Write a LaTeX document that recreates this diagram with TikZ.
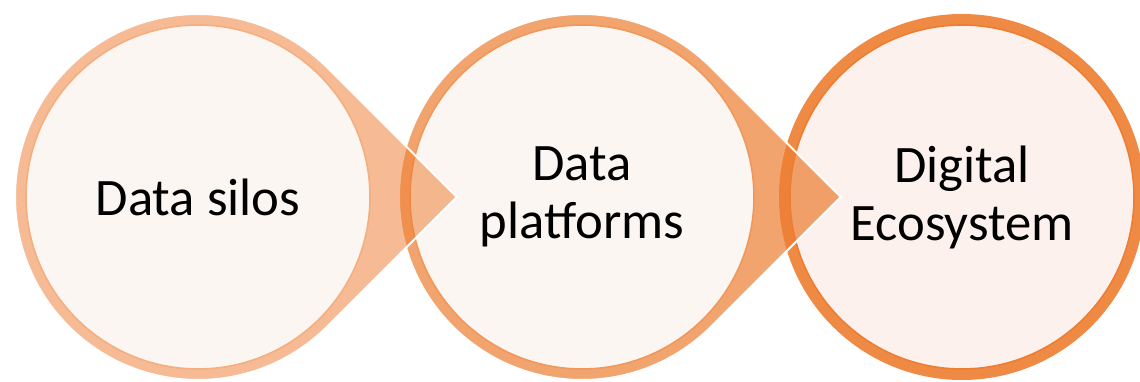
\documentclass[tikz,border=0pt]{standalone}
\usepackage{fontspec}
\setmainfont{Carlito}
\definecolor{acc}{HTML}{ED7D31}
\definecolor{inA}{HTML}{FCF6F2}
\definecolor{inC}{HTML}{FCF1EC}
\begin{document}
\begin{tikzpicture}[x=0.75pt,y=0.75pt,
  drop/.style={fill=acc, draw=white, line width=1.5pt, line join=miter},
  disc/.style={circle, inner sep=0pt, minimum size=258pt, fill=inA, line width=1.2pt,
    align=center, font=\fontsize{39.5}{43.5}\selectfont, text=black}]
\useasboundingbox (0,0) rectangle (1140,382);
\coordinate (c1) at (198,185);
\coordinate (c2) at (582,185);
\coordinate (c3) at (962,185);
% third: ring
\fill[acc, fill opacity=0.9] (c3) circle[radius=183];
\node[disc, fill=inC, draw=acc] (s3) at (c3) {Digital\\Ecosystem};
% second teardrop
\draw[drop, fill opacity=0.7] (c2) ++(45:183) arc[start angle=45,end angle=315,radius=183] -- ++(45:183) -- cycle;
\node[disc, draw=acc!80!white] (s2) at (c2) {Data\\platforms};
% first teardrop
\draw[drop, fill opacity=0.52] (c1) ++(45:183) arc[start angle=45,end angle=315,radius=183] -- ++(45:183) -- cycle;
\node[disc, draw=acc!62!white] (s1) at (c1) {Data silos};
\end{tikzpicture}
\end{document}
